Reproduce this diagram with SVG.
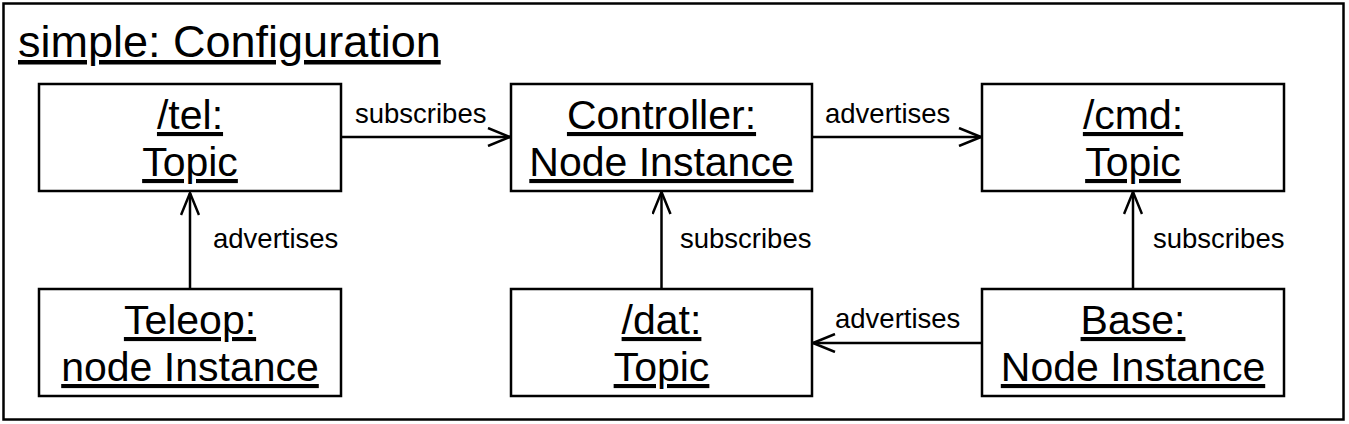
<svg xmlns="http://www.w3.org/2000/svg" width="1349" height="424" viewBox="0 0 1349 424">
<defs>
<style>
.frame{fill:#fff;stroke:#000;stroke-width:2.5}
.box{fill:#fff;stroke:#000;stroke-width:2.5}
.nt{font-family:"Liberation Sans",Arial,Helvetica,sans-serif;font-size:41px;text-anchor:middle;text-decoration:underline;fill:#000}
.title{font-family:"Liberation Sans",Arial,Helvetica,sans-serif;font-size:45px;text-decoration:underline;fill:#000}
.lbl{font-family:"Liberation Sans",Arial,Helvetica,sans-serif;font-size:27.5px;fill:#000}
.edge{fill:none;stroke:#000;stroke-width:2.5}
</style>
<marker id="arr" viewBox="0 0 24 20" refX="23" refY="10" markerWidth="24" markerHeight="20" markerUnits="userSpaceOnUse" orient="auto">
<path d="M1,1 L23,10 L1,19" fill="none" stroke="#000" stroke-width="2.5"/>
</marker>
</defs>
<rect width="1349" height="424" fill="#fff"/>
<g id="frame">
<rect class="frame" x="3.5" y="3.5" width="1340" height="416"/>
<text class="title" x="18" y="57">simple: Configuration</text>
</g>
<g id="edges">
<line class="edge" x1="341" y1="137" x2="510" y2="137" marker-end="url(#arr)"/>
<text class="lbl" x="355" y="123">subscribes</text>
<line class="edge" x1="812" y1="137" x2="981" y2="137" marker-end="url(#arr)"/>
<text class="lbl" x="825" y="123">advertises</text>
<line class="edge" x1="190" y1="289" x2="190" y2="193" marker-end="url(#arr)"/>
<text class="lbl" x="213" y="248">advertises</text>
<line class="edge" x1="661.5" y1="289" x2="661.5" y2="192" marker-end="url(#arr)"/>
<text class="lbl" x="680" y="248">subscribes</text>
<line class="edge" x1="1133" y1="289" x2="1133" y2="192" marker-end="url(#arr)"/>
<text class="lbl" x="1153" y="248">subscribes</text>
<line class="edge" x1="982" y1="343" x2="813" y2="343" marker-end="url(#arr)"/>
<text class="lbl" x="835" y="328">advertises</text>
</g>
<g id="tel">
<rect class="box" x="39" y="84" width="302" height="107"/>
<text class="nt" x="190" y="129">/tel:</text>
<text class="nt" x="190" y="176">Topic</text>
</g>
<g id="controller">
<rect class="box" x="511" y="84" width="301" height="107"/>
<text class="nt" x="661.5" y="129">Controller:</text>
<text class="nt" x="661.5" y="176">Node Instance</text>
</g>
<g id="cmd">
<rect class="box" x="982" y="84" width="302" height="107"/>
<text class="nt" x="1133" y="129">/cmd:</text>
<text class="nt" x="1133" y="176">Topic</text>
</g>
<g id="teleop">
<rect class="box" x="39" y="289" width="302" height="107"/>
<text class="nt" x="190" y="334">Teleop:</text>
<text class="nt" x="190" y="381">node Instance</text>
</g>
<g id="dat">
<rect class="box" x="511" y="289" width="301" height="107"/>
<text class="nt" x="661.5" y="334">/dat:</text>
<text class="nt" x="661.5" y="381">Topic</text>
</g>
<g id="base">
<rect class="box" x="982" y="289" width="302" height="107"/>
<text class="nt" x="1133" y="334">Base:</text>
<text class="nt" x="1133" y="381">Node Instance</text>
</g>
</svg>
